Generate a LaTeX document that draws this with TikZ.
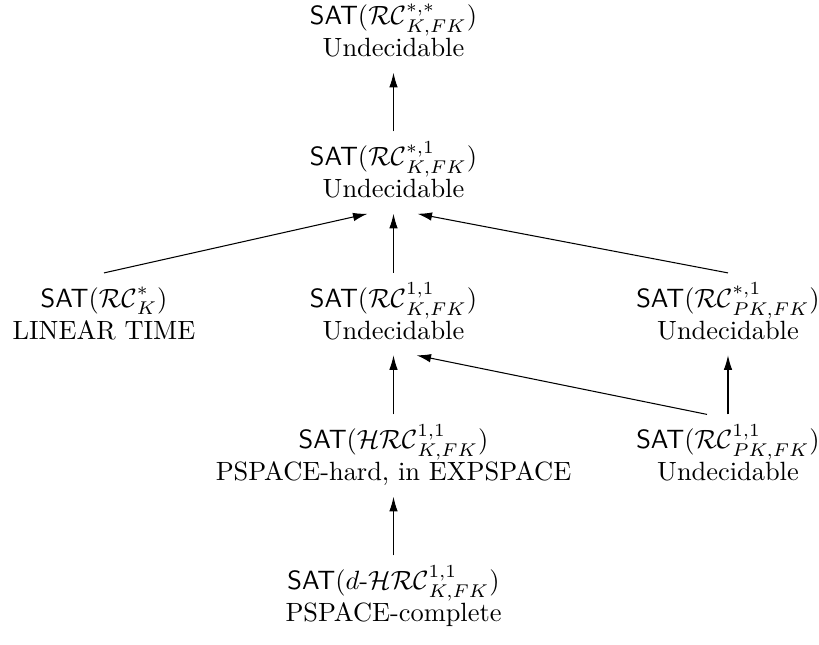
\documentclass[tikz,border=0pt]{standalone}
\usetikzlibrary{arrows.meta,calc}
% struts giving every two-line label the same height and depth
\newcommand\lnup{\rule{0pt}{10pt}}
\newcommand\lndn{\rule[-3pt]{0pt}{3pt}}
\begin{document}
\begin{tikzpicture}[x=0.3788pt,y=-0.3788pt,
  prob/.style={align=center,inner sep=0pt,outer sep=3.1pt},
  arr/.style={-{Latex[length=5.5pt,width=3.2pt]},line width=0.4pt}]
\useasboundingbox (0,0) rectangle (819,645);

% complexity classes
\node[prob] (n1) at (393.5,31.6) {\lnup\textsf{SAT}$(\mathcal{RC}^{*,*}_{K,FK})$\\Undecidable\lndn};
\node[prob] (n2) at (393.5,172.6) {\lnup\textsf{SAT}$(\mathcal{RC}^{*,1}_{K,FK})$\\Undecidable\lndn};
\node[prob] (l3) at (104,314.1) {\lnup\textsf{SAT}$(\mathcal{RC}^{*}_{K})$\\LINEAR TIME\lndn};
\node[prob] (m3) at (393.5,314.1) {\lnup\textsf{SAT}$(\mathcal{RC}^{1,1}_{K,FK})$\\Undecidable\lndn};
\node[prob] (r3) at (728,314.1) {\lnup\textsf{SAT}$(\mathcal{RC}^{*,1}_{PK,FK})$\\Undecidable\lndn};
\node[prob] (m4) at (393.5,455.6) {\lnup\textsf{SAT}$(\mathcal{HRC}^{1,1}_{K,FK})$\\PSPACE-hard, in EXPSPACE\lndn};
\node[prob] (r4) at (728,455.6) {\lnup\textsf{SAT}$(\mathcal{RC}^{1,1}_{PK,FK})$\\Undecidable\lndn};
\node[prob] (m5) at (393.5,596.6) {\lnup\textsf{SAT}$(d$-$\mathcal{HRC}^{1,1}_{K,FK})$\\PSPACE-complete\lndn};

% reductions
\draw[arr] (n2.north) -- (n1.south);
\draw[arr] (l3.north) -- ($(n2.south)+(-26,0)$);
\draw[arr] (m3.north) -- (n2.south);
\draw[arr] (r3.north) -- ($(n2.south)+(24,0)$);
\draw[arr] (m4.north) -- (m3.south);
\draw[arr] (r4.north) -- (r3.south);
\draw[arr] ($(r4.north)+(-21,0)$) -- ($(m3.south)+(23,0)$);
\draw[arr] (m5.north) -- (m4.south);
\end{tikzpicture}
\end{document}
